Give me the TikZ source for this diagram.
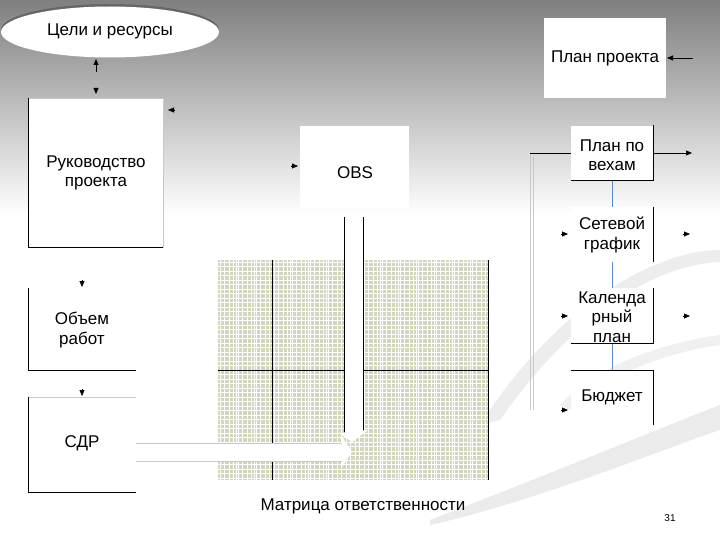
\documentclass[tikz,border=0pt]{standalone}
\usepackage{fontspec}
\setmainfont{Liberation Sans}
\usetikzlibrary{shapes.geometric,arrows.meta,shapes.arrows}
\definecolor{gridbg}{HTML}{D3D6BC}
\definecolor{edge}{HTML}{C8C8C8}
\definecolor{bluel}{HTML}{5B8BC9}
\tikzset{
  txt/.style={font=\fontsize{17}{19.5}\selectfont, align=center, inner sep=0pt},
  wbox/.style={fill=white, draw=edge, line width=0.8pt},
  blk/.style={draw=black, line width=0.8pt},
  tip/.style={-{Triangle[length=6pt,width=5pt]}, line width=0.4pt, draw=black, fill=black},
  wtip/.style={-{Triangle[length=6pt,width=5pt]}, line width=0.6pt, draw=black},
}
\begin{document}
\begin{tikzpicture}[x=1pt,y=-1pt]
\useasboundingbox (0,0) rectangle (720,540);
% background
\fill[white] (0,0) rectangle (720,540);
\shade[top color=black!50, bottom color=white] (0,0) rectangle (720,215);
% decorative swooshes
\fill[black!8] (430,520) .. controls (560,470) and (680,420) .. (720,405) -- (720,430) .. controls (660,450) and (540,500) .. (430,525) -- cycle;
\fill[black!7] (480,425) .. controls (560,300) and (660,250) .. (720,250) -- (720,262) .. controls (650,265) and (570,320) .. (500,420) -- cycle;
\fill[black!6] (560,405) .. controls (600,360) and (680,340) .. (720,335) -- (720,345) .. controls (680,350) and (610,370) .. (570,410) -- cycle;
% Goals ellipse
\node[ellipse, fill=black!60, minimum width=218pt, minimum height=52pt, inner sep=0pt] (goalsS) at (110,30) {};
\node[ellipse, fill=white, minimum width=218pt, minimum height=51pt, inner sep=0pt] (goals) at (110,32) {};
\node[txt] (goalsT) at (110,31) {Цели и ресурсы};
% Rukovodstvo
\draw[wbox] (28,98) rectangle (163,247);
\draw[blk] (28,98) -- (28,247) -- (163,247);
\node[txt] (ruk) at (96,173) {Руководство\\проекта};
% Obem
\fill[white] (28,288) rectangle (136,370);
\draw[blk] (28,288) -- (28,370) -- (136,370);
\node[txt] (obem) at (82,330) {Объем\\работ};
% SDR
\fill[white] (28,397) rectangle (136,492);
\draw[edge, line width=0.8pt] (28,397) -- (136,397);
\draw[blk] (28,397) -- (28,492) -- (136,492);
\node[txt] (sdr) at (82,443) {СДР};
% grid
\fill[gridbg] (218,260) rectangle (488,480);
\foreach \x in {220,224.5,...,488} \draw[white, line width=0.3pt] (\x,260) -- (\x,480);
\foreach \y in {262,266.5,...,480} \draw[white, line width=0.3pt] (218,\y) -- (488,\y);
\foreach \x in {236,254,272,290,308,326,380,398,416,434,452,470} \draw[white, line width=0.9pt] (\x,260) -- (\x,480);
\foreach \y in {280,298,316,334,352,388,406,424,442,460,478} \draw[white, line width=0.9pt] (218,\y) -- (488,\y);
\draw[blk] (272,260) -- (272,480);
\draw[blk] (488,260) -- (488,480);
\draw[blk] (218,370) -- (488,370);
\node[txt] (matr) at (363,506) {Матрица ответственности};
% OBS
\draw[fill=white, draw=white] (300,126) rectangle (408,207);
\node[txt] (obs) at (355,173) {OBS};
% big white arrows
\coordinate (vA) at (354,217);
\coordinate (vB) at (354,442);
\coordinate (hA) at (136,452);
\coordinate (hB) at (352,452);
\fill[white] (344,217) rectangle (363,433);
\draw[blk] (344,217) -- (344,433);
\draw[blk] (363,217) -- (363,433);
\fill[white] (339,433) -- (368,430) -- (352,442) -- cycle;
\fill[white] (136,443) rectangle (342,461);
\draw[edge, line width=0.8pt] (136,443) -- (342,443);
\draw[edge, line width=0.8pt] (136,461) -- (342,461);
\fill[white] (342,437) -- (352,452) -- (342,467) -- cycle;
% Plan proekta
\fill[white] (544,18) rectangle (666,98);
\node[txt] (plan) at (605,58) {План проекта};
\coordinate (planR) at (693,58);
\coordinate (planE) at (667,58);
\draw[wtip] (planR) -- (planE);
% right column
\draw[edge, line width=0.8pt] (530,153) -- (530,410);
\draw[edge, line width=0.8pt] (533,157) -- (533,410);
\draw[blk] (530,153) -- (571,153);
\draw[bluel, line width=0.6pt] (612,180) -- (612,370);
% Vekhi
\fill[white] (571,125) rectangle (653,180);
\draw[blk] (571,180) -- (653,180) -- (653,125);
\draw[edge, line width=0.6pt] (571,125) -- (653,125);
\node[txt] (vekh) at (612,155) {План по\\вехам};
\coordinate (vekhE) at (692,153);
\draw[wtip] (653,153) -- (vekhE);
% Setevoy
\fill[white] (571,207) rectangle (653,262);
\draw[blk] (653,207) -- (653,262);
\node[txt] (set) at (612,235) {Сетевой\\график};
% Kalendar
\fill[white] (571,288) rectangle (653,343);
\draw[blk] (653,288) -- (653,343) -- (571,343);
\node[txt] (kal) at (612,317) {Календа\\рный\\план};
% Budget
\fill[white] (571,370) rectangle (653,425);
\draw[blk] (571,370) -- (653,370) -- (653,425);
\node[txt] (bud) at (612,397) {Бюджет};
% small tips
\draw[black, line width=0.6pt] (96,61) -- (96,72);
\draw[tip] (96,70) -- (96,59);
\draw[tip] (96,88) -- (96,94);
\draw[tip] (175,110) -- (168,110);
\draw[tip] (82,280) -- (82,287);
\draw[tip] (82,389) -- (82,396);
\draw[tip] (291,166) -- (298,166);
\draw[tip] (561,234) -- (568,234);
\draw[tip] (683,234) -- (690,234);
\draw[tip] (561,316) -- (568,316);
\draw[tip] (683,316) -- (690,316);
\draw[tip] (561,410) -- (568,410);
% page number
\node[font=\fontsize{10}{12}\selectfont, inner sep=0pt] (num) at (670,518) {31};
\end{tikzpicture}
\end{document}
